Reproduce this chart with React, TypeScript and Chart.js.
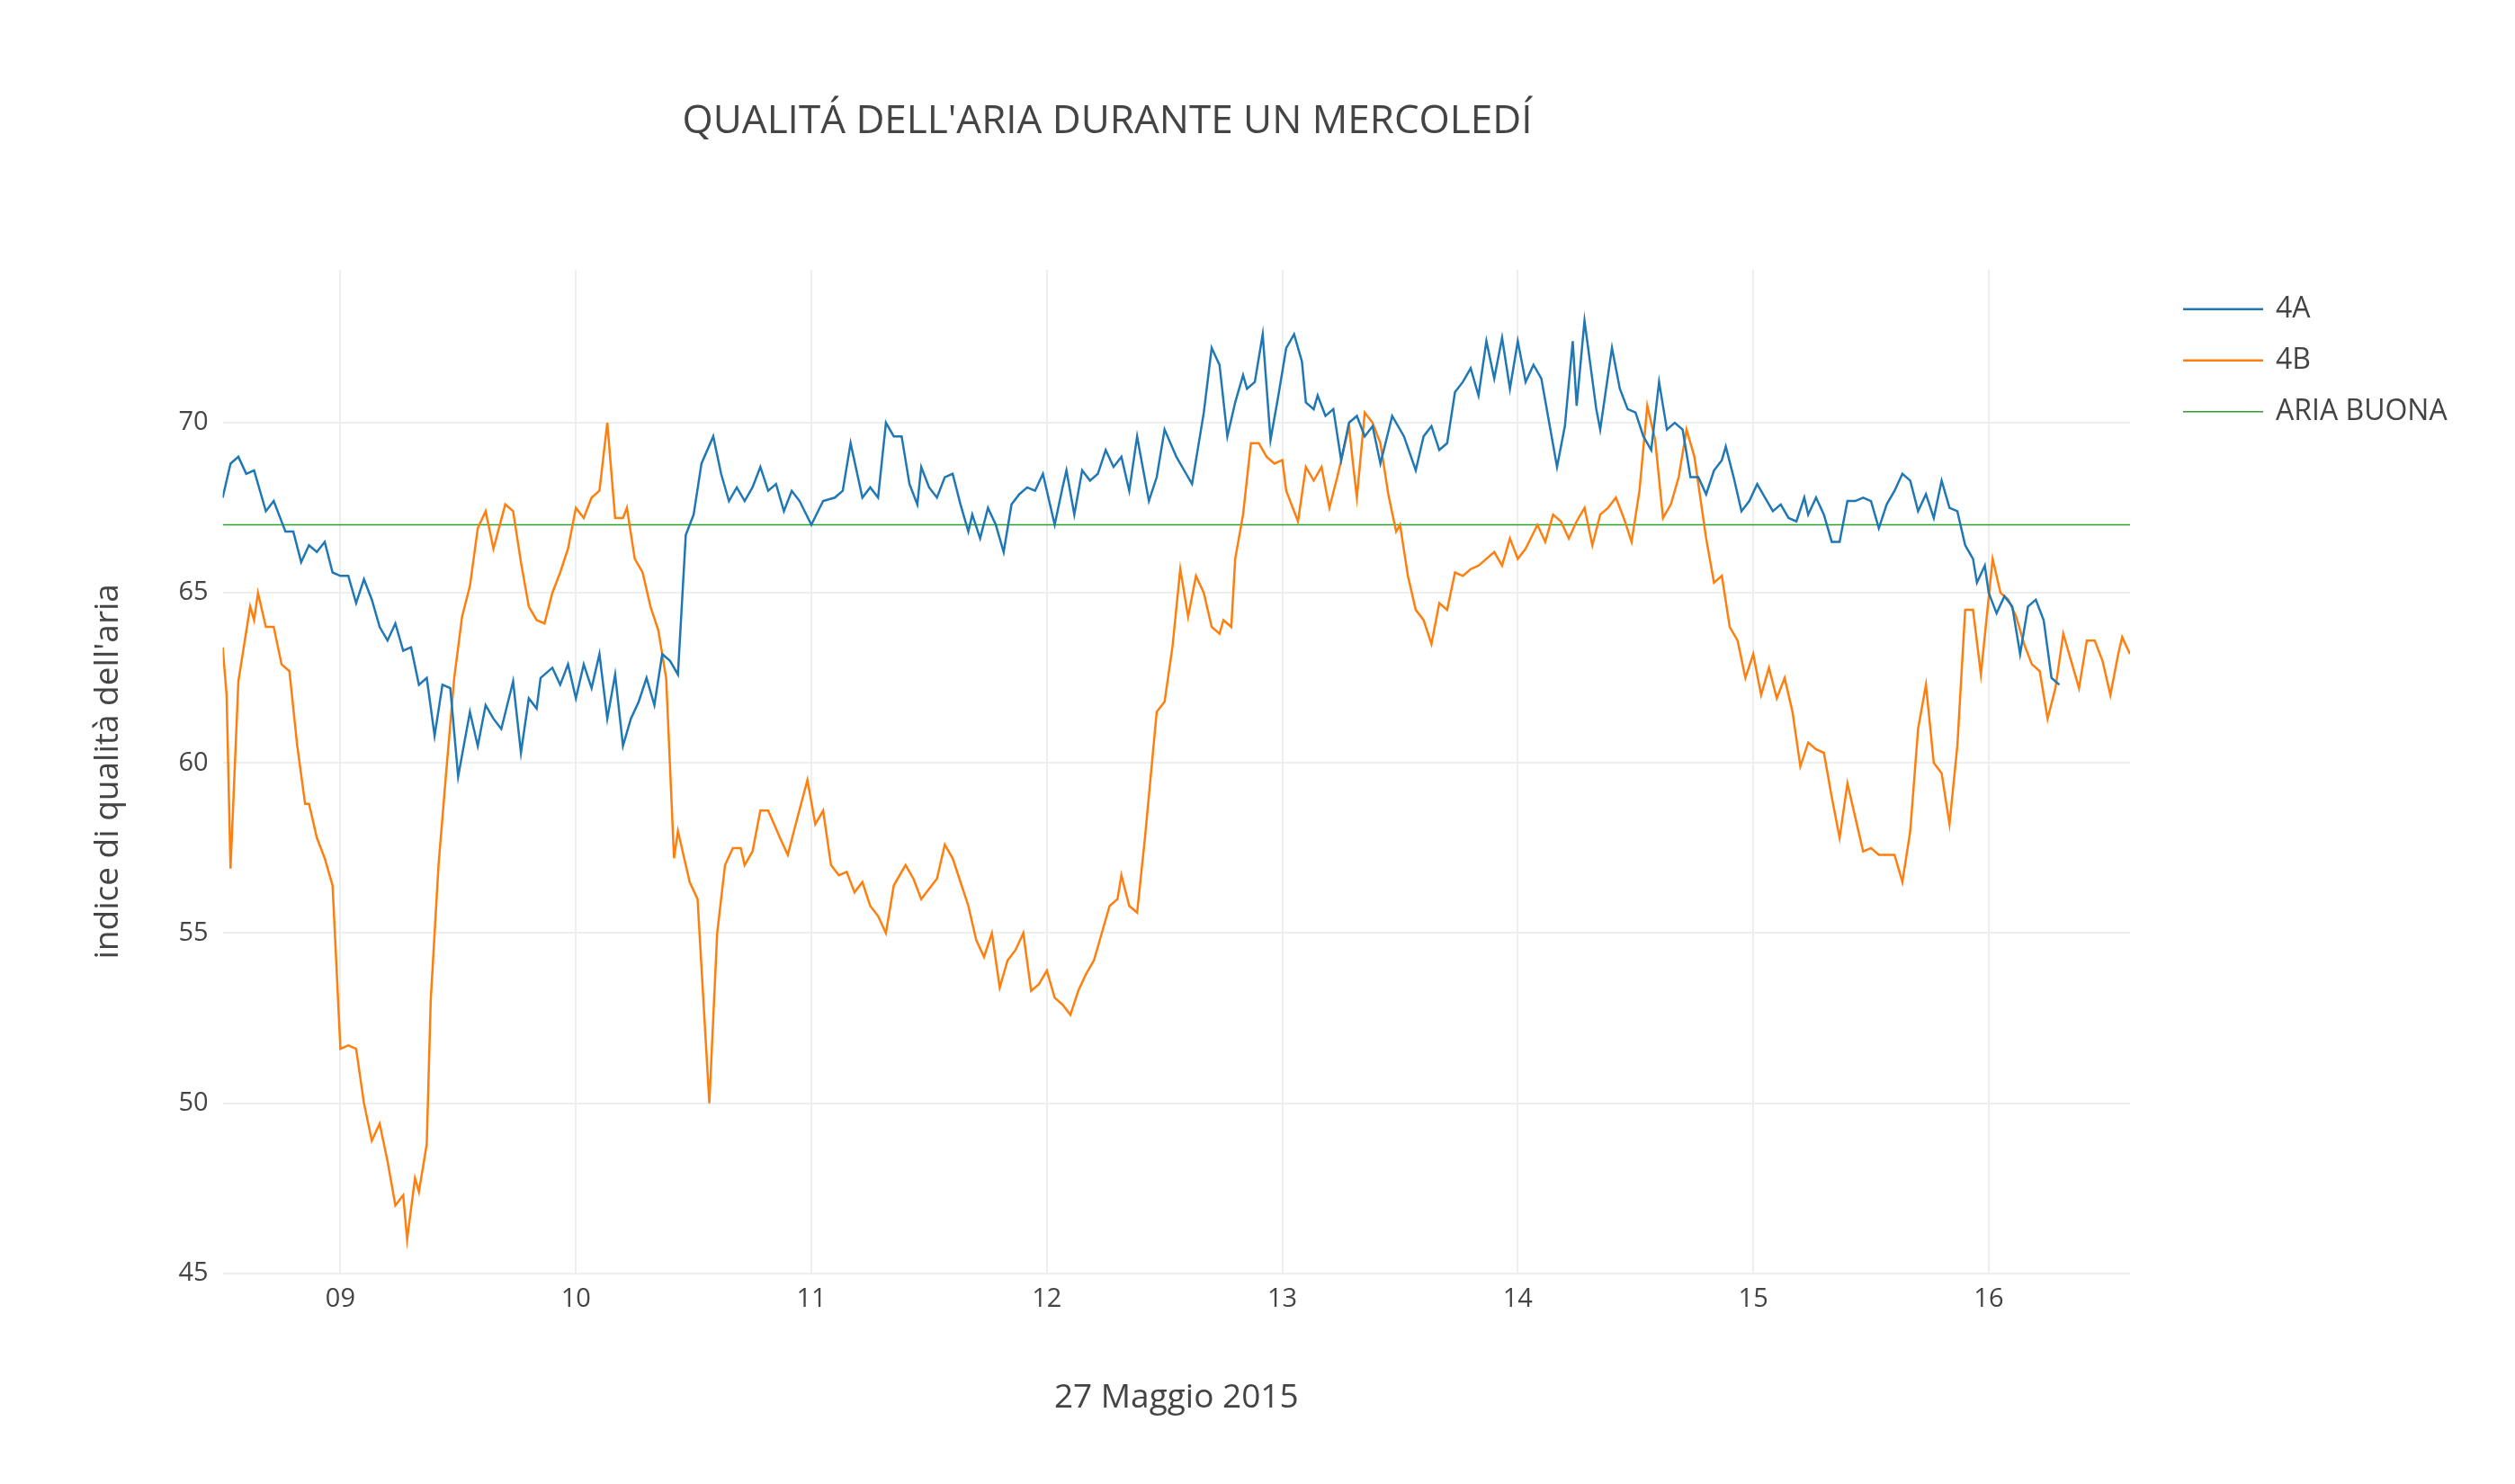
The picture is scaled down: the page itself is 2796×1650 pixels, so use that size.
import { useEffect, useRef } from "react";
import { Chart, registerables } from "chart.js";

Chart.register(...registerables);

const timesA = ["08:30","08:32","08:34","08:36","08:38","08:41","08:43","08:46","08:48","08:50","08:52","08:54","08:56","08:58","09:00","09:02","09:04","09:06","09:08","09:10","09:12","09:14","09:16","09:18","09:20","09:22","09:24","09:26","09:28","09:30","09:33","09:35","09:37","09:39","09:41","09:44","09:46","09:48","09:50","09:51","09:54","09:56","09:58","10:00","10:02","10:04","10:06","10:08","10:10","10:12","10:14","10:16","10:18","10:20","10:22","10:24","10:26","10:28","10:30","10:32","10:35","10:37","10:39","10:41","10:43","10:45","10:47","10:49","10:51","10:53","10:55","10:57","11:00","11:03","11:06","11:08","11:10","11:13","11:15","11:17","11:19","11:21","11:23","11:25","11:27","11:28","11:30","11:32","11:34","11:36","11:38","11:40","11:41","11:43","11:45","11:47","11:49","11:51","11:53","11:55","11:57","11:59","12:02","12:04","12:05","12:07","12:09","12:11","12:13","12:15","12:17","12:19","12:21","12:23","12:26","12:28","12:30","12:33","12:35","12:37","12:40","12:42","12:44","12:46","12:48","12:50","12:51","12:53","12:55","12:57","12:59","13:01","13:03","13:05","13:06","13:08","13:09","13:11","13:13","13:15","13:17","13:19","13:21","13:23","13:25","13:28","13:31","13:34","13:36","13:38","13:40","13:42","13:44","13:46","13:48","13:50","13:52","13:54","13:56","13:58","14:00","14:02","14:04","14:06","14:08","14:10","14:12","14:14","14:15","14:17","14:20","14:21","14:24","14:26","14:28","14:30","14:32","14:34","14:36","14:38","14:40","14:42","14:44","14:46","14:48","14:50","14:52","14:53","14:55","14:57","14:59","15:01","15:03","15:05","15:07","15:09","15:11","15:13","15:14","15:16","15:18","15:20","15:22","15:24","15:26","15:28","15:30","15:32","15:34","15:36","15:38","15:40","15:42","15:44","15:46","15:48","15:50","15:52","15:54","15:56","15:57","15:59","16:00","16:02","16:04","16:06","16:08","16:10","16:12","16:14","16:16","16:18"];
const values4A = [67.8,68.8,69.0,68.5,68.6,67.4,67.7,66.8,66.8,65.9,66.4,66.2,66.5,65.6,65.5,65.5,64.7,65.4,64.8,64.0,63.6,64.1,63.3,63.4,62.3,62.5,60.8,62.3,62.2,59.6,61.5,60.5,61.7,61.3,61.0,62.4,60.3,61.9,61.6,62.5,62.8,62.3,62.9,61.9,62.9,62.2,63.2,61.3,62.6,60.5,61.3,61.8,62.5,61.7,63.2,63.0,62.6,66.7,67.3,68.8,69.6,68.5,67.7,68.1,67.7,68.1,68.7,68.0,68.2,67.4,68.0,67.7,67.0,67.7,67.8,68.0,69.4,67.8,68.1,67.8,70.0,69.6,69.6,68.2,67.6,68.7,68.1,67.8,68.4,68.5,67.6,66.8,67.3,66.6,67.5,67.0,66.2,67.6,67.9,68.1,68.0,68.5,67.0,68.1,68.6,67.3,68.6,68.3,68.5,69.2,68.7,69.0,68.0,69.6,67.7,68.4,69.8,69.0,68.6,68.2,70.3,72.2,71.7,69.6,70.6,71.4,71.0,71.2,72.6,69.5,70.8,72.2,72.6,71.8,70.6,70.4,70.8,70.2,70.4,68.9,70.0,70.2,69.6,69.9,68.8,70.2,69.6,68.6,69.6,69.9,69.2,69.4,70.9,71.2,71.6,70.8,72.4,71.3,72.5,71.0,72.4,71.2,71.7,71.3,70.0,68.7,69.9,72.4,70.5,73.0,70.4,69.8,72.2,71.0,70.4,70.3,69.6,69.2,71.2,69.8,70.0,69.8,68.4,68.4,67.9,68.6,68.9,69.3,68.4,67.4,67.7,68.2,67.8,67.4,67.6,67.2,67.1,67.8,67.3,67.8,67.3,66.5,66.5,67.7,67.7,67.8,67.7,66.9,67.6,68.0,68.5,68.3,67.4,67.9,67.2,68.3,67.5,67.4,66.4,66.0,65.3,65.8,65.0,64.4,64.9,64.6,63.2,64.6,64.8,64.2,62.5,62.3];

const timesB = ["08:30","08:31","08:32","08:34","08:37","08:38","08:39","08:41","08:43","08:45","08:47","08:49","08:51","08:52","08:54","08:56","08:58","09:00","09:02","09:04","09:06","09:08","09:10","09:12","09:14","09:16","09:17","09:19","09:20","09:22","09:23","09:25","09:27","09:29","09:31","09:33","09:35","09:37","09:39","09:42","09:44","09:46","09:48","09:50","09:52","09:54","09:56","09:58","10:00","10:02","10:04","10:06","10:08","10:10","10:12","10:13","10:15","10:17","10:19","10:21","10:23","10:25","10:26","10:29","10:31","10:32","10:34","10:36","10:38","10:40","10:42","10:43","10:45","10:47","10:49","10:52","10:54","10:56","10:59","11:01","11:03","11:05","11:07","11:09","11:11","11:13","11:15","11:17","11:19","11:21","11:24","11:26","11:28","11:30","11:32","11:34","11:36","11:38","11:40","11:42","11:44","11:46","11:48","11:50","11:52","11:54","11:56","11:58","12:00","12:02","12:04","12:06","12:08","12:10","12:12","12:14","12:16","12:18","12:19","12:21","12:23","12:25","12:28","12:30","12:32","12:34","12:36","12:38","12:40","12:42","12:44","12:45","12:47","12:48","12:50","12:52","12:54","12:56","12:58","13:00","13:01","13:04","13:06","13:08","13:10","13:12","13:14","13:17","13:18","13:19","13:21","13:23","13:25","13:27","13:29","13:30","13:32","13:34","13:36","13:38","13:40","13:42","13:44","13:46","13:48","13:50","13:52","13:54","13:56","13:58","14:00","14:02","14:05","14:07","14:09","14:11","14:13","14:15","14:17","14:19","14:21","14:23","14:25","14:27","14:29","14:31","14:33","14:35","14:37","14:39","14:41","14:43","14:45","14:48","14:50","14:52","14:54","14:56","14:58","15:00","15:02","15:04","15:06","15:08","15:10","15:12","15:14","15:16","15:18","15:20","15:22","15:24","15:26","15:28","15:30","15:32","15:34","15:36","15:38","15:40","15:42","15:44","15:46","15:48","15:50","15:52","15:54","15:56","15:58","16:01","16:03","16:05","16:07","16:09","16:11","16:13","16:15","16:17","16:19","16:21","16:23","16:25","16:27","16:29","16:31","16:33","16:34","16:36"];
const values4B = [63.4,62.0,56.9,62.4,64.6,64.2,65.0,64.0,64.0,62.9,62.7,60.5,58.8,58.8,57.8,57.2,56.4,51.6,51.7,51.6,50.0,48.9,49.4,48.3,47.0,47.3,46.0,47.8,47.4,48.8,53.0,57.0,59.8,62.5,64.3,65.2,66.9,67.4,66.3,67.6,67.4,65.9,64.6,64.2,64.1,65.0,65.6,66.3,67.5,67.2,67.8,68.0,70.0,67.2,67.2,67.5,66.0,65.6,64.6,63.9,62.5,57.2,58.0,56.5,56.0,54.0,50.0,55.0,57.0,57.5,57.5,57.0,57.4,58.6,58.6,57.8,57.3,58.2,59.5,58.2,58.6,57.0,56.7,56.8,56.2,56.5,55.8,55.5,55.0,56.4,57.0,56.6,56.0,56.3,56.6,57.6,57.2,56.5,55.8,54.8,54.3,55.0,53.4,54.2,54.5,55.0,53.3,53.5,53.9,53.1,52.9,52.6,53.3,53.8,54.2,55.0,55.8,56.0,56.7,55.8,55.6,57.8,61.5,61.8,63.4,65.7,64.3,65.5,65.0,64.0,63.8,64.2,64.0,66.0,67.3,69.4,69.4,69.0,68.8,68.9,68.0,67.1,68.7,68.3,68.7,67.5,68.4,69.9,68.8,67.8,70.3,70.0,69.4,67.9,66.8,67.0,65.5,64.5,64.2,63.5,64.7,64.5,65.6,65.5,65.7,65.8,66.0,66.2,65.8,66.6,66.0,66.3,67.0,66.5,67.3,67.1,66.6,67.1,67.5,66.4,67.3,67.5,67.8,67.2,66.5,68.0,70.5,69.5,67.2,67.6,68.4,69.8,69.0,66.6,65.3,65.5,64.0,63.6,62.5,63.2,62.0,62.8,61.9,62.5,61.5,59.9,60.6,60.4,60.3,59.0,57.8,59.4,58.4,57.4,57.5,57.3,57.3,57.3,56.5,58.0,61.0,62.3,60.0,59.7,58.2,60.5,64.5,64.5,62.6,66.0,65.0,64.8,64.3,63.5,62.9,62.7,61.3,62.2,63.8,63.0,62.2,63.6,63.6,63.0,62.0,63.2,63.7,63.2];

const goodAirLevel = 67;
const axisStart = 8.5;
const axisEnd = 16.6;
const hourTicks = [9, 10, 11, 12, 13, 14, 15, 16];
const valueTicks = [45, 50, 55, 60, 65, 70];

const toHours = (t: string) => {
  const [h, m] = t.split(":").map(Number);
  return h + m / 60;
};

const font = "'Open Sans', sans-serif";

// plotly-style legend sitting to the right of the plot area
const sideLegend = {
  id: "sideLegend",
  afterDraw(chart: Chart) {
    const { ctx, chartArea } = chart;
    ctx.save();
    ctx.font = `32px ${font}`;
    ctx.textBaseline = "middle";
    chart.data.datasets.forEach((ds, i) => {
      const y = chartArea.top + 44 + i * 57;
      const x = chartArea.right + 59;
      ctx.strokeStyle = ds.borderColor as string;
      ctx.lineWidth = (ds as any).borderWidth;
      ctx.beginPath();
      ctx.moveTo(x, y);
      ctx.lineTo(x + 89, y);
      ctx.stroke();
      ctx.fillStyle = "#444";
      ctx.fillText(ds.label ?? "", x + 103, y);
    });
    ctx.restore();
  },
};

export default function App() {
  const chartRef = useRef<HTMLCanvasElement>(null);
  const chartInstance = useRef<Chart | null>(null);

  useEffect(() => {
    if (!chartRef.current) return;
    if (chartInstance.current) chartInstance.current.destroy();
    const ctx = chartRef.current.getContext("2d");
    if (!ctx) return;

    chartInstance.current = new Chart(ctx, {
      type: "line",
      data: {
        datasets: [
          {
            label: "4A",
            data: timesA.map((t, i) => ({ x: toHours(t), y: values4A[i] })),
            borderColor: "#1f77b4",
            borderWidth: 2.5,
            pointRadius: 0,
          },
          {
            label: "4B",
            data: timesB.map((t, i) => ({ x: toHours(t), y: values4B[i] })),
            borderColor: "#ff7f0e",
            borderWidth: 2.5,
            pointRadius: 0,
          },
          {
            label: "ARIA BUONA",
            data: [axisStart, axisEnd].map((x) => ({ x, y: goodAirLevel })),
            borderColor: "#2ca02c",
            borderWidth: 1.5,
            pointRadius: 0,
          },
        ],
      },
      options: {
        responsive: true,
        maintainAspectRatio: false,
        animation: false,
        layout: { padding: { left: 86, right: 420, top: 0, bottom: 61 } },
        scales: {
          x: {
            type: "linear",
            min: axisStart,
            max: axisEnd,
            afterBuildTicks: (axis) => {
              axis.ticks = hourTicks.map((value) => ({ value }));
            },
            ticks: {
              color: "#444",
              font: { family: font, size: 29 },
              padding: 12,
              maxRotation: 0,
              callback: (v) => String(v).padStart(2, "0"),
            },
            grid: { color: "#eee", lineWidth: 2, drawTicks: false },
            border: { display: false },
            title: {
              display: true,
              text: "27 Maggio 2015",
              color: "#444",
              font: { family: font, size: 37 },
              padding: { top: 58 },
            },
          },
          y: {
            min: 45,
            max: 74.5,
            afterBuildTicks: (axis) => {
              axis.ticks = valueTicks.map((value) => ({ value }));
            },
            ticks: {
              color: "#444",
              font: { family: font, size: 29 },
              padding: 16,
            },
            grid: { color: "#eee", lineWidth: 2, drawTicks: false },
            border: { display: false },
            title: {
              display: true,
              text: "indice di qualità dell'aria",
              color: "#444",
              font: { family: font, size: 37 },
              padding: { bottom: 40 },
            },
          },
        },
        plugins: {
          title: {
            display: true,
            text: "QUALITÁ DELL'ARIA DURANTE UN MERCOLEDÍ",
            color: "#444",
            font: { family: font, size: 44, weight: "normal" },
            padding: { top: 101, bottom: 138 },
          },
          legend: { display: false },
          tooltip: { enabled: false },
        },
      },
      plugins: [sideLegend],
    });

    return () => {
      if (chartInstance.current) chartInstance.current.destroy();
    };
  }, []);

  return (
    <div style={{ width: 2780, height: 1634 }}>
      <canvas ref={chartRef} />
    </div>
  );
}
